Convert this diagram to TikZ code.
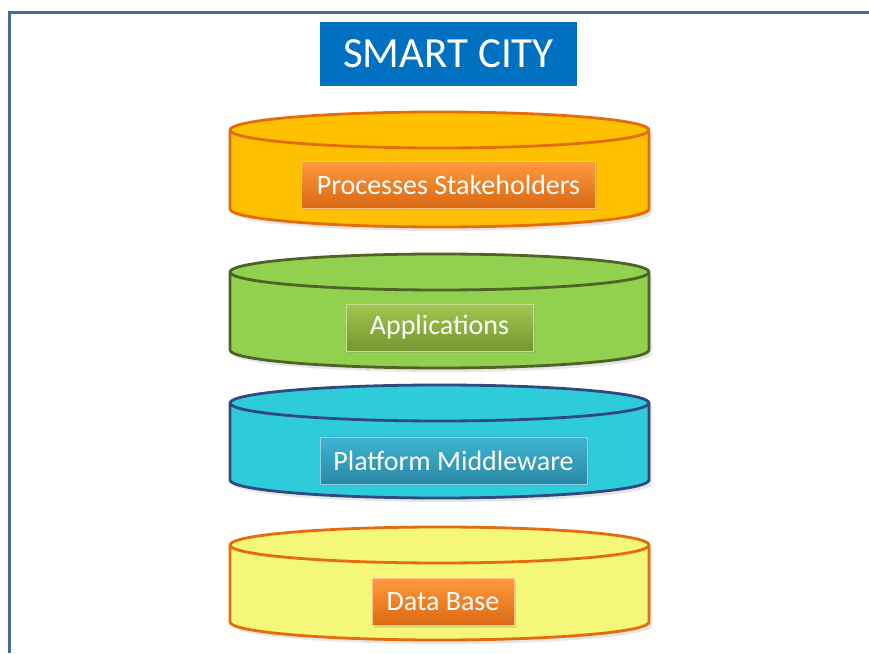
\documentclass[tikz,border=0pt]{standalone}
\usepackage{fontspec}
\setmainfont{Carlito}
\usetikzlibrary{shadows}

\definecolor{framecol}{HTML}{46699A}
\definecolor{titleblue}{HTML}{0070C0}
\definecolor{goldfill}{HTML}{FFC000}
\definecolor{orangeline}{HTML}{E46C0A}
\definecolor{greenfill}{HTML}{92D050}
\definecolor{greenline}{HTML}{4F6228}
\definecolor{cyanfill}{HTML}{2ECBDB}
\definecolor{navyline}{HTML}{2F4B7C}
\definecolor{paleyellow}{HTML}{F5F778}
\definecolor{orangetop}{HTML}{FF9A3C}
\definecolor{orangebot}{HTML}{DA6814}
\definecolor{greentop}{HTML}{A2C650}
\definecolor{greenbot}{HTML}{74972F}
\definecolor{bluetop}{HTML}{3FB5D4}
\definecolor{bluebot}{HTML}{2A87A5}

\tikzset{
  titlebox/.style={fill=titleblue, text=white, font=\fontsize{43}{48}\selectfont,
    minimum width=257pt, minimum height=64pt, inner sep=0pt},
  layerlabel/.style={text=white, font=\fontsize{28}{32}\selectfont,
    minimum height=47pt, inner sep=0pt, line width=0.6pt,
    drop shadow={opacity=0.25, shadow xshift=1.5pt, shadow yshift=-2pt}},
  orangelabel/.style={layerlabel, top color=orangetop, bottom color=orangebot, draw=orangetop!60!white},
  greenlabel/.style={layerlabel, top color=greentop, bottom color=greenbot, draw=greentop!60!white},
  bluelabel/.style={layerlabel, top color=bluetop, bottom color=bluebot, draw=bluetop!60!white}
}

% one layer: top y, bottom y, fill, line colour
\newcommand{\layercyl}[4]{%
  \filldraw[fill=#3, draw=#4, line width=2.8pt,
    drop shadow={opacity=0.2, shadow xshift=3pt, shadow yshift=-4pt}]
    (230,#1) -- (230,#2)
    arc[start angle=180, end angle=360, x radius=209.5, y radius=18]
    -- (649,#1)
    arc[start angle=0, end angle=180, x radius=209.5, y radius=18] -- cycle;
  \draw[#4, line width=2.8pt] (230,#1)
    arc[start angle=180, end angle=360, x radius=209.5, y radius=18];
}

\begin{document}
\begin{tikzpicture}[x=1pt, y=1pt]
  \useasboundingbox (0,0) rectangle (869,653);

  % frame
  \draw[framecol, line width=3pt] (869,640) -- (9.5,640) -- (9.5,0);

  \node[titlebox] (title) at (448.5,599) {SMART CITY};

  % layers
  \layercyl{523}{444}{goldfill}{orangeline}
  \layercyl{381}{303}{greenfill}{greenline}
  \layercyl{250}{173}{cyanfill}{navyline}
  \layercyl{108}{31}{paleyellow}{orangeline}

  \node[orangelabel, minimum width=294pt] (stakeholders) at (448.5,468) {Processes Stakeholders};
  \node[greenlabel, minimum width=187pt] (apps) at (439.5,325.5) {Applications};
  \node[bluelabel, minimum width=267pt] (middleware) at (453.5,192.5) {Platform Middleware};
  \node[orangelabel, minimum width=142pt] (database) at (443,51) {Data Base};
\end{tikzpicture}
\end{document}
